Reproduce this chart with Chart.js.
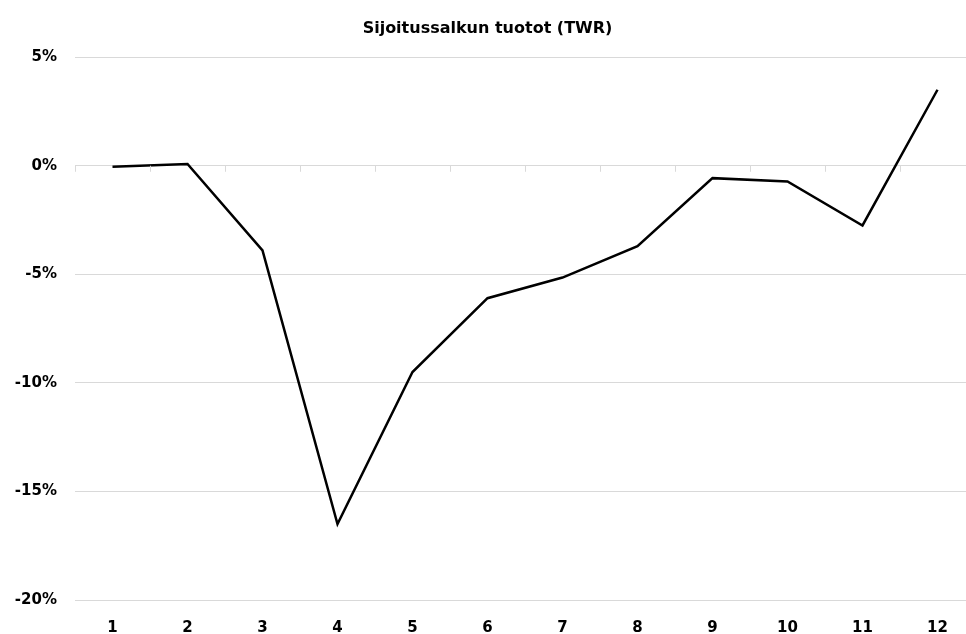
<!DOCTYPE html>
<html>
<head>
<meta charset="utf-8">
<script src="https://cdn.jsdelivr.net/npm/chart.js@4"></script>
<style>
  html, body { margin: 0; padding: 0; background: #fff; overflow: hidden; }
  #wrap { width: 976px; height: 634px; }
</style>
</head>
<body>
<div id="wrap"><canvas id="myChart" width="976" height="634"></canvas></div>
<script>
// months 1..12, time-weighted return in percent
const labels = ['1', '2', '3', '4', '5', '6', '7', '8', '9', '10', '11', '12'];
const twr = [-0.05, 0.08, -3.9, -16.5, -9.5, -6.1, -5.15, -3.7, -0.57, -0.72, -2.75, 3.5];
const yTicks = [5, 0, -5, -10, -15, -20];

const FONT = '"DejaVu Sans", sans-serif';

// small tick marks hanging from the 0% line, between categories
const zeroTicks = {
    id: 'zeroTicks',
    afterDatasetsDraw(chart) {
        const x = chart.scales.x, y = chart.scales.y;
        const ctx = chart.ctx;
        const y0 = y.getPixelForValue(0);
        ctx.save();
        ctx.strokeStyle = '#d9d9d9';
        ctx.lineWidth = 1;
        for (let i = 0; i <= labels.length; i++) {
            const px = Math.round(x.getPixelForValue(i - 0.5)) + 0.5;
            ctx.beginPath();
            ctx.moveTo(px, y0);
            ctx.lineTo(px, y0 + 6);
            ctx.stroke();
        }
        ctx.restore();
    }
};

const data = {
    labels: labels,
    datasets: [
        {
            label: 'TWR',
            data: twr,
            borderColor: '#000000',
            backgroundColor: '#000000',
            borderWidth: 2.5,
            pointRadius: 0,
            tension: 0
        }
    ]
};

const config = {
    type: 'line',
    data: data,
    options: {
        responsive: false,
        animation: false,
        layout: { padding: { left: 0, right: 1, top: 0, bottom: 0 } },
        plugins: {
            legend: { display: false },
            tooltip: { enabled: false },
            title: {
                display: true,
                text: 'Sijoitussalkun tuotot (TWR)',
                color: '#000',
                font: { family: FONT, size: 16, weight: 'bold' },
                padding: { top: 19, bottom: 19 }
            }
        },
        scales: {
            x: {
                offset: true,
                grid: { display: false, drawTicks: false },
                border: { display: false },
                afterFit(scale) { scale.height = 34; },
                ticks: {
                    color: '#000',
                    font: { family: FONT, size: 15, weight: 'bold' },
                    padding: 19,
                    maxRotation: 0
                }
            },
            y: {
                min: -20,
                max: 5,
                afterBuildTicks(scale) {
                    scale.ticks = yTicks.map(v => ({ value: v }));
                },
                afterFit(scale) { scale.width = 75; },
                grid: { color: '#d9d9d9', lineWidth: 1, drawTicks: false },
                border: { display: false },
                ticks: {
                    color: '#000',
                    font: { family: FONT, size: 15, weight: 'bold' },
                    padding: 18,
                    callback: v => v + '%'
                }
            }
        }
    },
    plugins: [zeroTicks]
};

new Chart(document.getElementById('myChart'), config);
</script>
</body>
</html>
